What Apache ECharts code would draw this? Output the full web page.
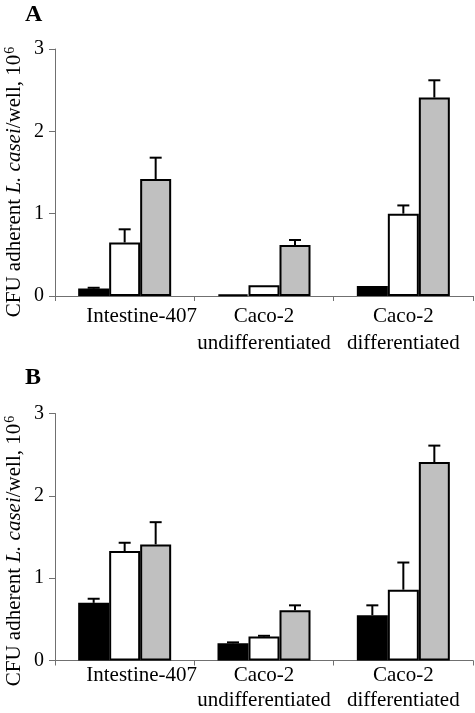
<!DOCTYPE html>
<html>
<head>
<meta charset="utf-8">
<script src="https://cdn.jsdelivr.net/npm/echarts@6/dist/echarts.min.js"></script>
<style>html,body{margin:0;padding:0;background:#fff}#c{width:475px;height:713px}</style>
</head>
<body>
<div id="c"></div>
<script>
// ---- data ----
const categories = ['Intestine-407', 'Caco-2\nundifferentiated', 'Caco-2\ndifferentiated'];
const yTicks = [0, 1, 2, 3];
// Panel A
const A_black = [0.09, 0.02, 0.12];
const A_black_err = [0.01, 0, 0];
const A_white = [0.65, 0.13, 1.00];
const A_white_err = [0.16, 0, 0.10];
const A_gray = [1.42, 0.62, 2.41];
const A_gray_err = [0.26, 0.06, 0.21];
// Panel B
const B_black = [0.70, 0.21, 0.55];
const B_black_err = [0.05, 0.01, 0.12];
const B_white = [1.33, 0.29, 0.86];
const B_white_err = [0.10, 0.01, 0.33];
const B_gray = [1.41, 0.61, 2.41];
const B_gray_err = [0.27, 0.06, 0.20];

const FONT = '"Liberation Serif","Times New Roman",serif';
const BAR_W = 31;
const fills = ['#000000', '#ffffff', '#c0c0c0'];

const chart = echarts.init(document.getElementById('c'), null, {renderer: 'canvas'});

function grid(top) { return {left: 55, right: 2, top: top, height: 247, containLabel: false}; }
function xAxis(idx, margin, lh) {
  return {
    type: 'category', gridIndex: idx, data: categories,
    axisLine: {lineStyle: {color: '#707070', width: 1}},
    axisTick: {show: true, interval: 0, length: 5, lineStyle: {color: '#707070'}},
    axisLabel: {
      interval: 0, margin: margin, color: '#000', fontFamily: FONT, fontSize: 21, lineHeight: lh,
      formatter: (v, i) => i === 0 ? '{p|' + v + '}' : v,
      rich: {p: {fontFamily: FONT, fontSize: 21, color: '#000', padding: [0, 0, 0, 34]}}
    }
  };
}
function yAxis(idx) {
  return {
    type: 'value', gridIndex: idx, min: 0, max: 3, interval: 1,
    axisLine: {show: true, lineStyle: {color: '#707070', width: 1}},
    axisTick: {show: true, length: 6, lineStyle: {color: '#707070'}},
    splitLine: {show: false},
    axisLabel: {color: '#000', fontFamily: FONT, fontSize: 20, margin: 11,
      formatter: v => yTicks.includes(v) ? String(v) : ''}
  };
}
function bar(idx, data, k) {
  return {type: 'bar', xAxisIndex: idx, yAxisIndex: idx, data: data, barWidth: BAR_W, barGap: '0%',
    itemStyle: {color: fills[k], borderColor: '#000', borderWidth: 2}, silent: true};
}
function errSeries(idx, means, errs, k) {
  const data = means.map((m, i) => [i, m, errs[i]]);
  return {
    type: 'custom', xAxisIndex: idx, yAxisIndex: idx, data: data, silent: true, z: 5,
    encode: {x: 0, y: 1},
    renderItem: function (params, api) {
      const i = api.value(0), m = api.value(1), e = api.value(2);
      if (!e) return null;
      const b = api.coord([i, m]);
      const t = api.coord([i, m + e]);
      const x = b[0] + (k - 1) * BAR_W;
      const cap = 6;
      return {type: 'group', children: [
        {type: 'line', shape: {x1: x, y1: b[1], x2: x, y2: t[1]}, style: {stroke: '#000', lineWidth: 2}},
        {type: 'line', shape: {x1: x - cap, y1: t[1], x2: x + cap, y2: t[1]}, style: {stroke: '#000', lineWidth: 2}}
      ]};
    }
  };
}

const yTitleRich = {
  a: {fontFamily: FONT, fontSize: 21, color: '#000'},
  i: {fontFamily: FONT, fontSize: 21, fontStyle: 'italic', color: '#000'},
  s: {fontFamily: FONT, fontSize: 14, color: '#000', verticalAlign: 'top', padding: [0, 0, 0, 1]}
};
const yTitleText = '{a|CFU adherent }{i|L. casei}{a|/well, 10}{s|6}';

const option = {
  animation: false,
  backgroundColor: '#fff',
  grid: [grid(49), grid(413.5)],
  xAxis: [xAxis(0, 7, 27), xAxis(1, 2, 25)],
  yAxis: [yAxis(0), yAxis(1)],
  series: [
    bar(0, A_black, 0), bar(0, A_white, 1), bar(0, A_gray, 2),
    bar(1, B_black, 0), bar(1, B_white, 1), bar(1, B_gray, 2),
    errSeries(0, A_black, A_black_err, 0), errSeries(0, A_white, A_white_err, 1), errSeries(0, A_gray, A_gray_err, 2),
    errSeries(1, B_black, B_black_err, 0), errSeries(1, B_white, B_white_err, 1), errSeries(1, B_gray, B_gray_err, 2)
  ],
  graphic: [
    {type: 'text', left: 25, top: 3, style: {text: 'A', font: 'bold 24px ' + FONT, fill: '#000'}},
    {type: 'text', left: 25, top: 366, style: {text: 'B', font: 'bold 24px ' + FONT, fill: '#000'}},
    {type: 'text', x: 14, y: 182, rotation: Math.PI / 2,
      style: {text: yTitleText, rich: yTitleRich, align: 'center', verticalAlign: 'middle', fill: '#000'}},
    {type: 'text', x: 14, y: 551, rotation: Math.PI / 2,
      style: {text: yTitleText, rich: yTitleRich, align: 'center', verticalAlign: 'middle', fill: '#000'}}
  ]
};
chart.setOption(option);
</script>
</body>
</html>
